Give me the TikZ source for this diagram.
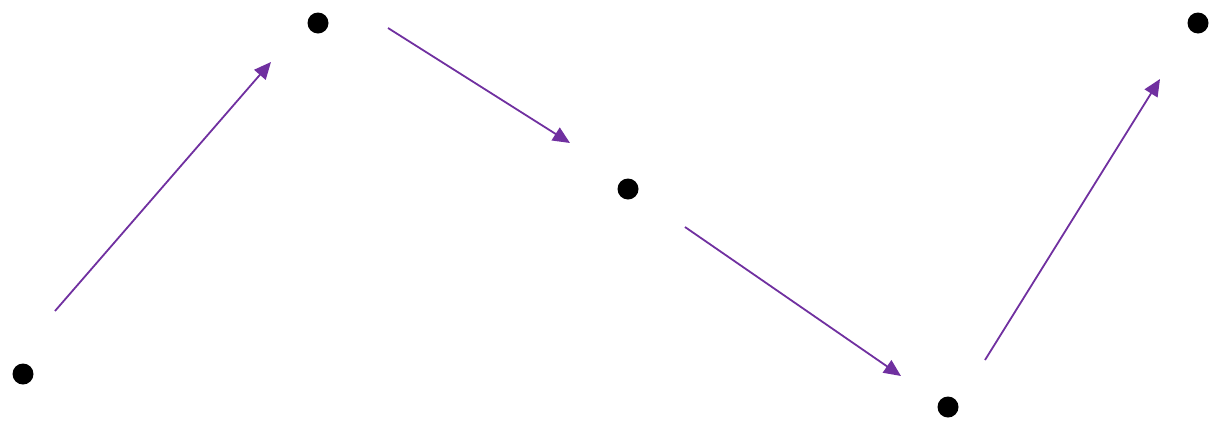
\documentclass[tikz,border=0pt]{standalone}
\usetikzlibrary{arrows.meta}
\definecolor{arrowpurple}{RGB}{112,48,160}
\begin{document}
\begin{tikzpicture}[x=1pt,y=-1pt,
  dot/.style={circle,fill=black,inner sep=0pt,minimum size=21pt},
  link/.style={draw=arrowpurple,line width=1.8pt,-{Triangle[length=17pt,width=15pt]}}]
\useasboundingbox (0,0) rectangle (1211,424);
\node[dot] (p1) at (23,374) {};
\node[dot] (p2) at (318,23) {};
\node[dot] (p3) at (628,189) {};
\node[dot] (p4) at (948,407) {};
\node[dot] (p5) at (1198,23) {};
\coordinate (s1) at (55,311);
\coordinate (e1) at (271,62);
\coordinate (s2) at (388,28);
\coordinate (e2) at (570,143);
\coordinate (s3) at (685,227);
\coordinate (e3) at (901,376);
\coordinate (s4) at (985,360);
\coordinate (e4) at (1160,79);
\draw[link] (s1) -- (e1);
\draw[link] (s2) -- (e2);
\draw[link] (s3) -- (e3);
\draw[link] (s4) -- (e4);
\end{tikzpicture}
\end{document}
